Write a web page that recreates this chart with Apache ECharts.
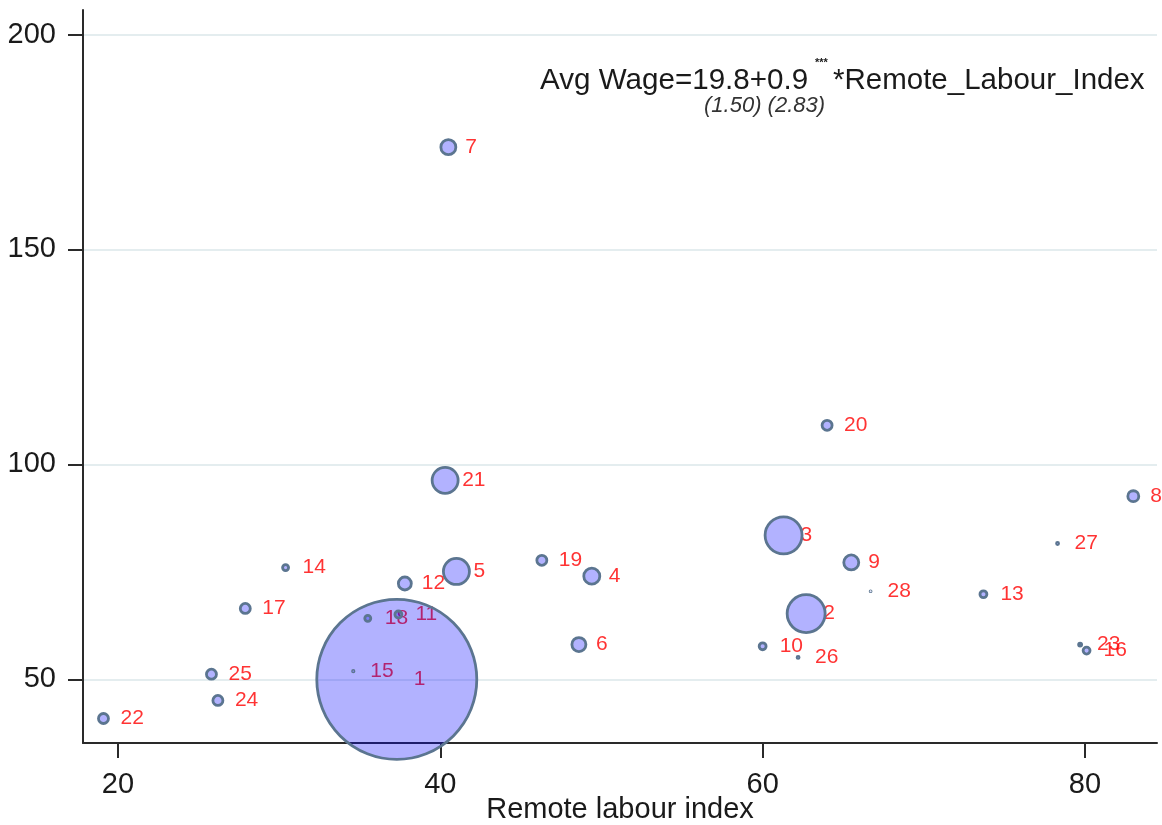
<!DOCTYPE html>
<html><head><meta charset="utf-8">
<script src="https://cdn.jsdelivr.net/npm/echarts@6/dist/echarts.min.js"></script>
<style>html,body{margin:0;padding:0;background:#fff}#c{width:1162px;height:825px}</style>
</head><body><div id="c"></div>
<script>
// Sector ids (labels)
const ids = [1,2,3,4,5,6,7,8,9,10,11,12,13,14,15,16,17,18,19,20,21,22,23,24,25,26,27,28];
// Remote labour index (x)
const remoteIndex = [37.3,62.7,61.3,49.4,41.0,48.6,40.5,83.0,65.5,60.0,37.4,37.8,73.7,30.4,34.6,80.1,27.9,35.5,46.3,64.0,40.3,19.1,79.7,26.2,25.8,62.2,78.3,66.7];
// Average wage (y)
const avgWage = [50.0,65.3,83.5,74.0,75.1,58.1,173.8,92.6,77.2,57.7,65.1,72.3,69.8,76.0,51.9,56.7,66.5,64.2,77.7,109.1,96.3,40.9,58.1,45.1,51.2,55.1,81.6,70.5];
// Bubble weights (area proportional)
const weights = [6400,361,342,64,169,49,56,30,56,12,12,42,12,9,0.5,12,25,9,25,25,169,25,2.3,25,25,1,1,0.2];
const xTicks = [20,40,60,80];
const yTicks = [50,100,150,200];
const xTitle = 'Remote labour index';
const eqMain = 'Avg Wage=19.8+0.9';
const eqStars = '***';
const eqRest = '*Remote_Labour_Index';
const eqSe = '(1.50) (2.83)';

const pts = ids.map((id,i)=>[remoteIndex[i], avgWage[i], weights[i], String(id)]);
const FONT = '"Liberation Sans", Arial, sans-serif';
const chart = echarts.init(document.getElementById('c'), null, {renderer:'canvas'});
chart.setOption({
  animation:false,
  backgroundColor:'#fff',
  grid:{left:83,right:5,top:10,bottom:82,containLabel:false,outerBoundsMode:'none'},
  xAxis:{
    type:'value', min:17.83, max:84.47, splitNumber:3,
    name:xTitle, nameLocation:'middle', nameGap:52, nameMoveOverlap:false,
    nameTextStyle:{fontFamily:FONT,fontSize:29,color:'#1a1a1a'},
    axisLine:{show:true,onZero:false,lineStyle:{color:'#2a2a2a',width:2}},
    axisTick:{show:true,length:15,inside:false,customValues:xTicks,lineStyle:{color:'#2a2a2a',width:2}},
    axisLabel:{customValues:xTicks,margin:27,fontFamily:FONT,fontSize:29,color:'#1a1a1a'},
    splitLine:{show:false}
  },
  yAxis:{
    type:'value', min:35.2, max:205.7, splitNumber:3,
    axisLine:{show:true,onZero:false,lineStyle:{color:'#2a2a2a',width:2}},
    axisTick:{show:true,length:15,customValues:yTicks,lineStyle:{color:'#2a2a2a',width:2}},
    axisLabel:{customValues:yTicks,margin:27,fontFamily:FONT,fontSize:29,color:'#1a1a1a'},
    splitLine:{show:true,lineStyle:{color:'#e4edef',width:2}}
  },
  graphic:[
    {type:'text',left:540,top:66,style:{text:eqMain,font:'29.6px '+FONT,fill:'#1a1a1a'}},
    {type:'text',left:815,top:57,style:{text:eqStars,font:'bold 11px '+FONT,fill:'#1a1a1a'}},
    {type:'text',left:833,top:66,style:{text:eqRest,font:'29.5px '+FONT,fill:'#1a1a1a'}},
    {type:'text',left:704,top:95,style:{text:eqSe,font:'italic 22px '+FONT,fill:'#333'}}
  ],
  series:[
    {
      type:'scatter', z:2, data:pts, symbolSize:0, silent:true,
      itemStyle:{color:'transparent'},
      label:{show:true,position:'right',distance:17,formatter:p=>p.data[3],
        fontFamily:FONT,fontSize:21,color:'#ff0000'}
    },
    {
      type:'scatter', z:3, data:pts, clip:false,
      symbolSize:d=>Math.max(0.5, 2*Math.sqrt(d[2])),
      itemStyle:{color:'rgba(0,0,255,0.3)',borderColor:'#5b7590',borderWidth:2.8,opacity:1},
      label:{show:false}
    }
  ]
});
</script></body></html>
